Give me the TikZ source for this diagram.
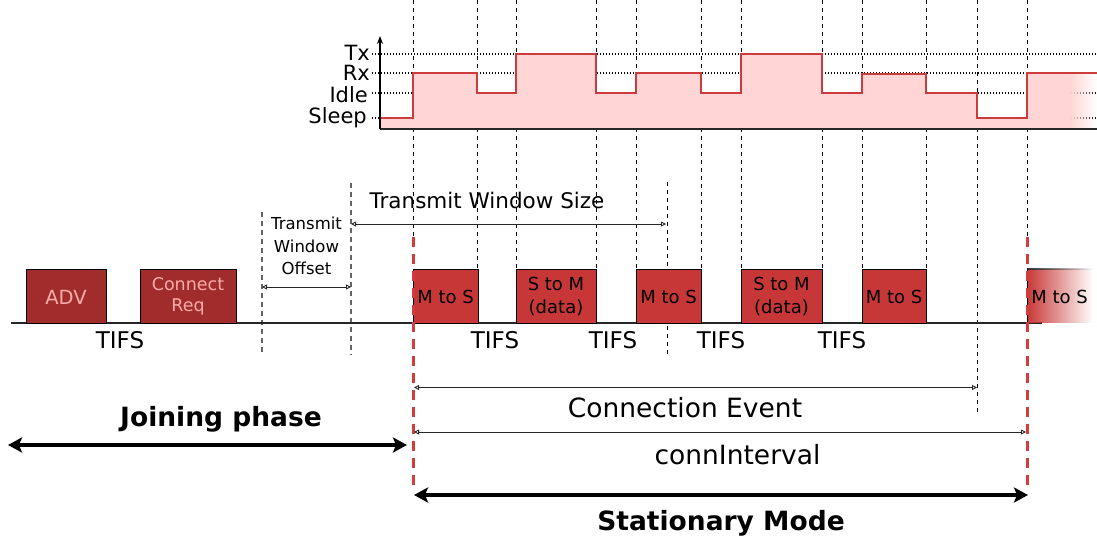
\documentclass[tikz,border=0pt]{standalone}
\usepackage{fontspec}
\setmainfont{DejaVu Sans}
\usetikzlibrary{arrows.meta,fadings}
\definecolor{boxred}{RGB}{200,55,55}
\definecolor{advred}{RGB}{160,44,44}
\definecolor{advtext}{RGB}{255,170,170}
\definecolor{sigred}{RGB}{205,60,60}
\definecolor{pinkfill}{RGB}{255,213,213}
\definecolor{reddash}{RGB}{212,60,60}
\definecolor{guidegray}{RGB}{100,100,100}
\tikzfading[name=fadeR, left color=transparent!0, right color=transparent!100]
\tikzset{
  guide/.style={black, line width=0.9pt, dash pattern=on 4pt off 4pt},
  grayguide/.style={guidegray, line width=1.1pt, dash pattern=on 5pt off 4pt},
  levdot/.style={black, line width=1.1pt, dash pattern=on 1.4pt off 1.6pt},
  sigline/.style={sigred, line width=2.4pt, line join=miter},
  reddashed/.style={reddash, line width=3pt, dash pattern=on 10pt off 7pt},
  pkt/.style={draw=black, line width=1pt, fill=boxred},
  advpkt/.style={draw=black, line width=1pt, fill=advred},
  txt/.style={inner sep=0pt, anchor=base},
  lvl/.style={inner sep=0pt, anchor=base east, font=\fontsize{21}{25}\selectfont},
  pktxt/.style={txt, font=\fontsize{18}{22}\selectfont},
  advtxt/.style={txt, text=advtext},
  big/.style={txt, font=\fontsize{23}{28}\selectfont},
  bigger/.style={txt, font=\fontsize{26.5}{32}\selectfont},
  bold/.style={txt, font=\fontsize{26.5}{32}\selectfont\bfseries},
  dimarrow/.style={{Triangle[open,length=5pt,width=5pt]}-{Triangle[open,length=5pt,width=5pt]}, line width=0.9pt, black!85},
  thickarrow/.style={{Stealth[length=14pt,width=15pt,inset=3pt]}-{Stealth[length=14pt,width=15pt,inset=3pt]}, line width=4pt, black}
}
\begin{document}
\begin{tikzpicture}[x=1pt,y=-1pt]
\useasboundingbox (0,0) rectangle (1097,539);

% ---------- vertical guides ----------
\foreach \x/\yb in {413/237, 477/269, 516/269, 596/269, 636/269, 701/269, 741/269, 822/269, 862/269, 926/269, 977/413, 1027/237}
  \draw[guide] (\x,0) -- (\x,\yb);
\draw[guide] (667,182) -- (667,355);
\draw[grayguide] (262,212) -- (262,355);
\draw[grayguide] (351,183) -- (351,355);

% ---------- power graph ----------
\foreach \y in {54,73,93,118}
  \draw[levdot] (372,\y) -- (1097,\y);
\fill[pinkfill] (380,129) -- (380,118) -- (413,118) -- (413,73) -- (477,73) -- (477,93) -- (516,93) -- (516,54) -- (596,54) -- (596,93) -- (636,93) -- (636,73) -- (701,73) -- (701,93) -- (741,93) -- (741,54) -- (822,54) -- (822,93) -- (862,93) -- (862,74) -- (926,74) -- (926,93) -- (977,93) -- (977,118) -- (1027,118) -- (1027,73) -- (1070,73) -- (1070,129) -- cycle;
\fill[pinkfill, path fading=fadeR] (1070,73) rectangle (1097,129);
\draw[sigline] (380,118) -- (413,118) -- (413,73) -- (477,73) -- (477,93) -- (516,93) -- (516,54) -- (596,54) -- (596,93) -- (636,93) -- (636,73) -- (701,73) -- (701,93) -- (741,93) -- (741,54) -- (822,54) -- (822,93) -- (862,93) -- (862,74) -- (926,74) -- (926,93) -- (977,93) -- (977,118) -- (1027,118) -- (1027,73) -- (1097,73);
\coordinate (axo) at (380,129);
\coordinate (axtop) at (380,36);
\coordinate (axend) at (1097,129);
\draw[black!85, line width=1.4pt] (axo) -- (axend);
\draw[-{Stealth[length=8pt,width=6pt]}, line width=1.2pt] (axo) -- (axtop);
\node[lvl] (ltx) at (370,60) {Tx};
\node[lvl] (lrx) at (370,80) {Rx};
\node[lvl] (lidle) at (368,102) {Idle};
\node[lvl] (lsleep) at (367,123) {Sleep};

% ---------- timeline ----------
\coordinate (bl0) at (11,323);
\coordinate (bl1) at (1042,323);
\draw[black!85, line width=1.4pt] (bl0) -- (bl1);

\draw[advpkt] (26,269) rectangle (106,323);
\node[advtxt, font=\fontsize{19.5}{23}\selectfont] (adv) at (66,304) {ADV};
\draw[advpkt] (140,269) rectangle (236,323);
\node[advtxt, font=\fontsize{17.5}{21}\selectfont] (creq1) at (188,290) {Connect};
\node[advtxt, font=\fontsize{17.5}{21}\selectfont] (creq2) at (188,311.5) {Req};

\draw[pkt] (413,269) rectangle (478,323);
\node[pktxt] (p1) at (445.5,303.5) {M to S};
\draw[pkt] (516,269) rectangle (596,323);
\node[pktxt] (p2a) at (556,290) {S to M};
\node[pktxt] (p2b) at (556,313) {(data)};
\draw[pkt] (636,269) rectangle (701,323);
\node[pktxt] (p3) at (668.5,303.5) {M to S};
\draw[pkt] (741,269) rectangle (822,323);
\node[pktxt] (p4a) at (781.5,290) {S to M};
\node[pktxt] (p4b) at (781.5,313) {(data)};
\draw[pkt] (862,269) rectangle (926,323);
\node[pktxt] (p5) at (894,303.5) {M to S};
\fill[boxred, path fading=fadeR] (1027,269) rectangle (1093,323);
\fill[black!80, path fading=fadeR] (1027,268.3) rectangle (1093,269.7);
\draw[black, line width=1pt] (1027,269) -- (1027,323);
\node[pktxt] (p6) at (1059.5,303.5) {M to S};

\node[big] (tifs1) at (120,348) {TIFS};
\node[big] (tifs2) at (495,348) {TIFS};
\node[big] (tifs3) at (613,348) {TIFS};
\node[big] (tifs4) at (721,348) {TIFS};
\node[big] (tifs5) at (842,348) {TIFS};

% transmit window offset
\node[txt, font=\fontsize{16.5}{20}\selectfont] (two1) at (306.5,229) {Transmit};
\node[txt, font=\fontsize{16.5}{20}\selectfont] (two2) at (306.5,252) {Window};
\node[txt, font=\fontsize{16.5}{20}\selectfont] (two3) at (306.5,274) {Offset};
\coordinate (twoL) at (262,287);
\coordinate (twoR) at (351,287);
\draw[dimarrow] (twoL) -- (twoR);

% transmit window size
\node[txt, font=\fontsize{21.5}{26}\selectfont] (tws) at (487,208) {Transmit Window Size};
\coordinate (twsL) at (351,224);
\coordinate (twsR) at (666,224);
\draw[dimarrow] (twsL) -- (twsR);

% red dashed boundaries
\draw[reddashed] (413,237) -- (413,489);
\draw[reddashed] (1027,237) -- (1027,489);

% connection event / interval
\coordinate (ceL) at (414,387.5);
\coordinate (ceR) at (977,387.5);
\draw[dimarrow] (ceL) -- (ceR);
\node[bigger] (ce) at (685,417) {Connection Event};
\coordinate (ciL) at (414,432);
\coordinate (ciR) at (1026,432);
\draw[dimarrow] (ciL) -- (ciR);
\node[bigger] (ci) at (737.5,464) {connInterval};

% phases
\coordinate (jpL) at (8,445);
\coordinate (jpR) at (407,445);
\draw[thickarrow] (jpL) -- (jpR);
\node[bold] (jp) at (221,426.5) {Joining phase};
\coordinate (smL) at (414,495);
\coordinate (smR) at (1028,495);
\draw[thickarrow] (smL) -- (smR);
\node[bold] (sm) at (721,530) {Stationary Mode};
\end{tikzpicture}
\end{document}
